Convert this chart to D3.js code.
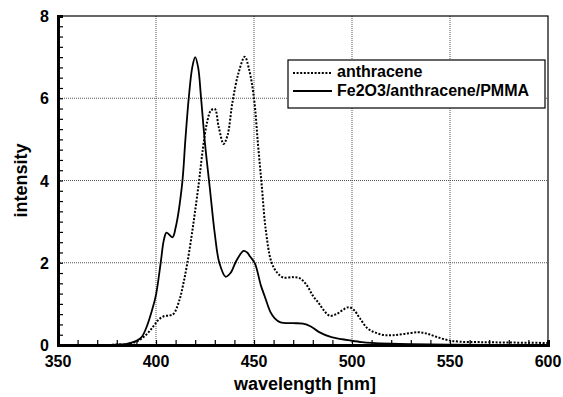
<!DOCTYPE html>
<html>
<head>
<meta charset="utf-8">
<script src="https://cdn.jsdelivr.net/npm/d3@7"></script>
<style>
  body { margin: 0; background: #fff; }
  text { font-family: "Liberation Sans", Arial, sans-serif; font-weight: bold; }
</style>
</head>
<body>
<div class="graph"></div>
<script>
// spectra: [wavelength nm, intensity]
let anthracene = [
    [350, 0], [375, 0], [380, 0.01], [385, 0.02], [390, 0.08], [395, 0.25], [398.6, 0.45],
    [401, 0.6], [404, 0.7], [407, 0.72], [409, 0.76], [412, 1.1], [414, 1.5], [416, 2.0],
    [418, 2.6], [419.8, 3.2], [422, 4.0], [424, 4.8], [426, 5.4], [428, 5.7], [430, 5.74],
    [432, 5.3], [434.5, 4.89], [436.5, 5.1], [439, 5.9], [442, 6.6], [445.3, 7.01],
    [447.5, 6.7], [450, 6.0], [452, 4.9], [454, 3.85], [456, 2.8], [459, 2.0], [462, 1.75],
    [465, 1.64], [470, 1.65], [473.5, 1.62], [477, 1.45], [480, 1.2], [483, 1.02],
    [486, 0.82], [488.7, 0.71], [492, 0.75], [495, 0.84], [498.3, 0.92], [501, 0.85],
    [504, 0.65], [508, 0.4], [512, 0.3], [516.6, 0.24], [521, 0.24], [526.7, 0.27],
    [533.5, 0.31], [538, 0.28], [543, 0.2], [548.7, 0.12], [555, 0.08], [565, 0.07],
    [580, 0.06], [600, 0.05]
];
let composite = [
    [350, 0], [375, 0], [380, 0.01], [385, 0.03], [390, 0.1], [392.8, 0.2], [395.3, 0.45],
    [398, 0.85], [400, 1.22], [402.4, 2.0], [404, 2.55], [405.4, 2.73], [408.4, 2.62],
    [410, 2.85], [413.3, 3.9], [415, 5.0], [416.7, 6.0], [418.5, 6.75], [420, 7.0],
    [421.5, 6.75], [423, 6.0], [425, 4.9], [427.5, 3.8], [430, 2.7], [432.3, 2.0],
    [435.5, 1.66], [438, 1.75], [441, 2.05], [444.7, 2.29], [446.5, 2.25], [448, 2.15],
    [450.4, 1.99], [453.5, 1.45], [455.5, 1.18], [458.4, 0.8], [460.6, 0.65], [463.5, 0.55],
    [470, 0.53], [475, 0.52], [479, 0.45], [483, 0.32], [489.5, 0.19], [495, 0.14],
    [499, 0.11], [505, 0.07], [510, 0.05], [520, 0.03], [530, 0.02], [550, 0.01], [600, 0]
];
let seriesNames = ["anthracene", "Fe2O3/anthracene/PMMA"];
let xTicks = [350, 400, 450, 500, 550, 600];
let yTicks = [0, 2, 4, 6, 8];

let margin = {top: 16, right: 15, bottom: 52, left: 58},
    width = 563 - margin.left - margin.right,
    height = 397 - margin.top - margin.bottom;

let x = d3.scaleLinear().domain([350, 600]).range([0, width]);
let y = d3.scaleLinear().domain([0, 8]).range([height, 0]);

let svg = d3.select(".graph").append("svg")
    .attr("width", 563)
    .attr("height", 397)
    .append("g")
    .attr("transform", "translate(" + margin.left + "," + margin.top + ")");

// dotted grid
svg.append("g").selectAll("line")
    .data(xTicks.slice(1, -1))
    .join("line")
    .attr("x1", d => x(d)).attr("x2", d => x(d))
    .attr("y1", 0).attr("y2", height)
    .attr("stroke", "#555").attr("stroke-width", 1).attr("stroke-dasharray", "1,1");
svg.append("g").selectAll("line")
    .data(yTicks.slice(1, -1))
    .join("line")
    .attr("x1", 0).attr("x2", width)
    .attr("y1", d => y(d)).attr("y2", d => y(d))
    .attr("stroke", "#555").attr("stroke-width", 1).attr("stroke-dasharray", "1,1");

// frame
svg.append("rect")
    .attr("width", width).attr("height", height)
    .attr("fill", "none").attr("stroke", "#000").attr("stroke-width", 1.2);

// inward minor ticks
let xAxis = svg.append("g")
    .attr("transform", "translate(0," + height + ")")
    .call(d3.axisBottom(x).tickValues(d3.range(350, 601, 10)).tickSize(-5).tickFormat(""));
let yAxis = svg.append("g")
    .call(d3.axisLeft(y).tickValues(d3.range(0, 8.01, 0.25)).tickSize(-5).tickFormat(""));
[xAxis, yAxis].forEach(a => {
    a.select(".domain").attr("stroke", "#000").attr("stroke-width", 3);
    a.selectAll(".tick line").attr("stroke", "#000").attr("stroke-width", 1.2);
});

// tick labels
svg.append("g").selectAll("text")
    .data(xTicks)
    .join("text")
    .attr("x", d => x(d)).attr("y", height + 22)
    .attr("text-anchor", "middle")
    .style("font-size", "16px")
    .text(d => d);
svg.append("g").selectAll("text")
    .data(yTicks)
    .join("text")
    .attr("x", -9).attr("y", d => y(d) + 6)
    .attr("text-anchor", "end")
    .style("font-size", "16px")
    .text(d => d);

// axis titles
svg.append("text")
    .attr("x", width / 2 + 2).attr("y", height + 45)
    .attr("text-anchor", "middle")
    .style("font-size", "18px")
    .text("wavelength [nm]");
svg.append("text")
    .attr("transform", "translate(-31," + (height / 2) + ") rotate(-90)")
    .attr("text-anchor", "middle")
    .style("font-size", "18px")
    .text("intensity");

let line = d3.line()
    .x(d => x(d[0]))
    .y(d => y(d[1]))
    .curve(d3.curveCatmullRom.alpha(0.5));

svg.append("path")
    .datum(anthracene)
    .attr("fill", "none").attr("stroke", "#000")
    .attr("stroke-width", 2).attr("stroke-dasharray", "2,1.6")
    .attr("d", line);
svg.append("path")
    .datum(composite)
    .attr("fill", "none").attr("stroke", "#000")
    .attr("stroke-width", 1.8)
    .attr("d", line);

// legend
let lg = svg.append("g").attr("transform", "translate(230,44)");
lg.append("rect")
    .attr("width", 257).attr("height", 48)
    .attr("fill", "#fff").attr("stroke", "#000").attr("stroke-width", 1.2);
lg.selectAll("line")
    .data(seriesNames)
    .join("line")
    .attr("x1", 5).attr("x2", 44)
    .attr("y1", (d, i) => 13 + i * 18).attr("y2", (d, i) => 13 + i * 18)
    .attr("stroke", "#000")
    .attr("stroke-width", (d, i) => i === 0 ? 2 : 1.8)
    .attr("stroke-dasharray", (d, i) => i === 0 ? "2,1.6" : null);
lg.selectAll("text")
    .data(seriesNames)
    .join("text")
    .attr("x", 49).attr("y", (d, i) => 17 + i * 19)
    .style("font-size", "16px")
    .text(d => d);
</script>
</body>
</html>
